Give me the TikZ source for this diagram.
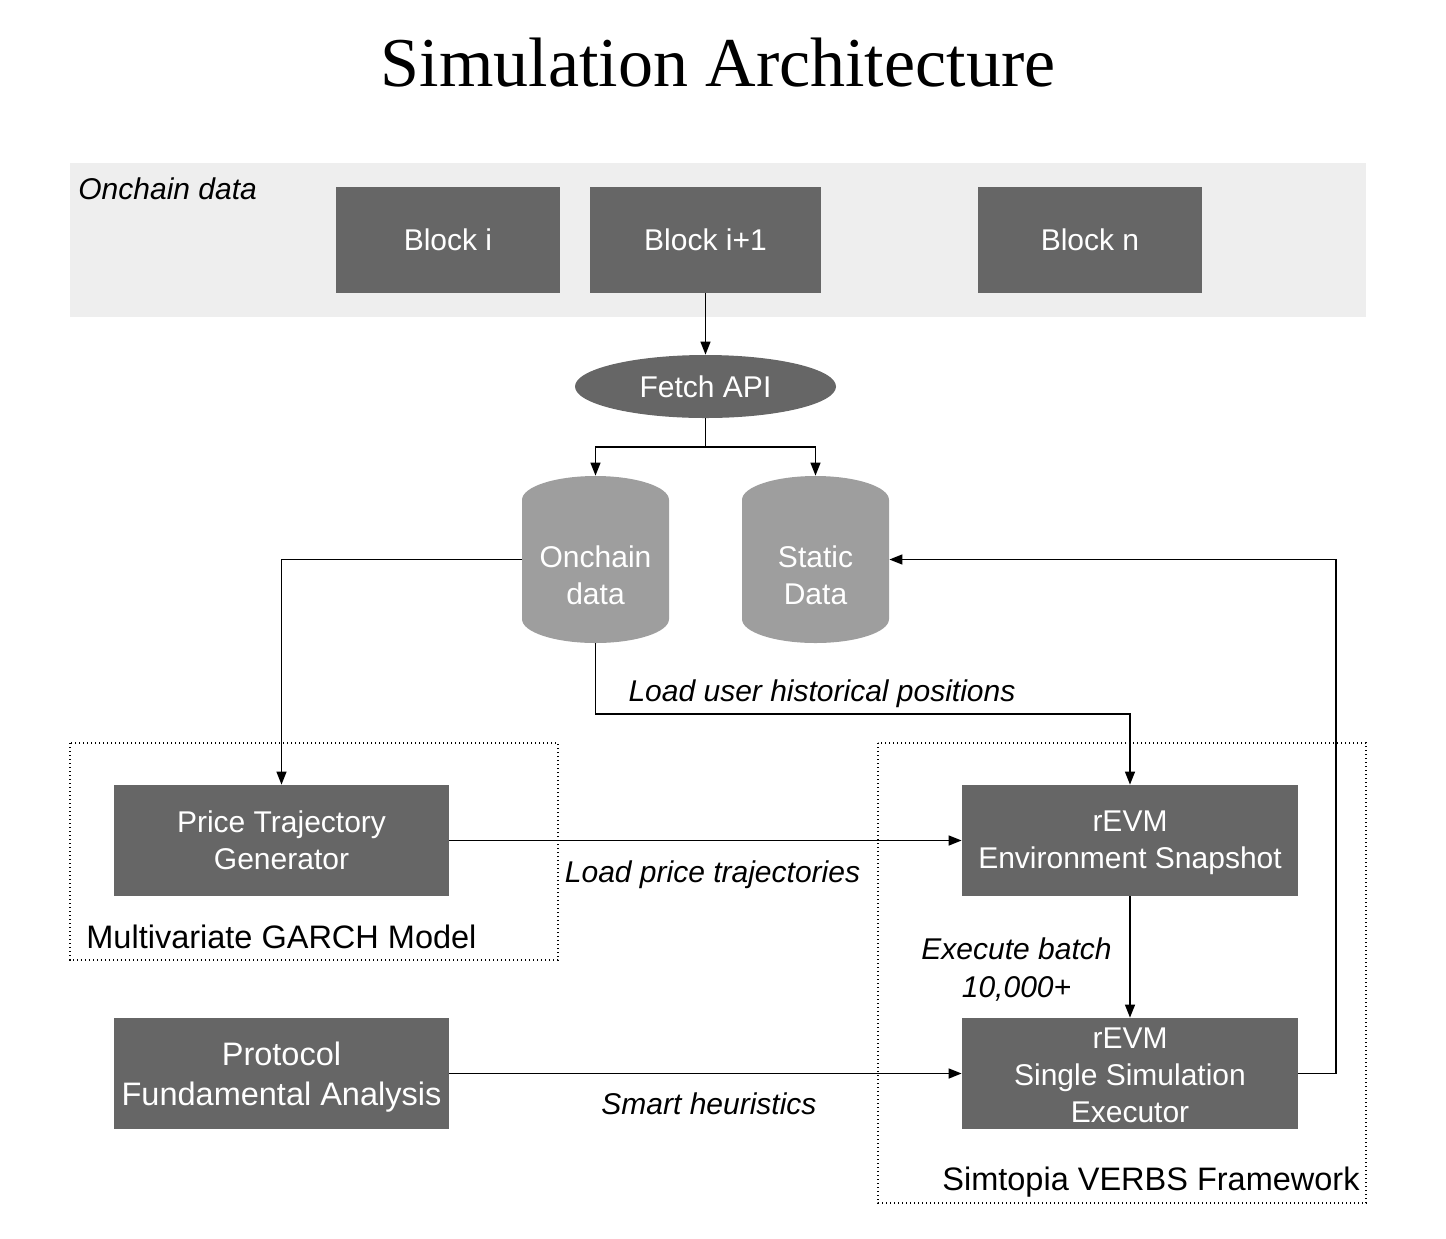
\documentclass[tikz,border=0pt]{standalone}
\usepackage{fontspec}
\setmainfont{Liberation Sans}
\newfontfamily\titlefont{Liberation Serif}
\usetikzlibrary{arrows.meta,shapes.geometric}
\definecolor{boxgray}{HTML}{666666}
\definecolor{cylgray}{HTML}{9E9E9E}
\definecolor{bandgray}{HTML}{EEEEEE}
\tikzset{
  dbox/.style={rectangle, fill=boxgray, text=white, align=center, inner sep=0pt,
    font=\fontsize{15}{18.5}\selectfont},
  boxtxt/.style={text=white, align=center, inner sep=0pt, font=\fontsize{15}{18.5}\selectfont},
  cylnode/.style={rectangle, inner sep=0pt, minimum width=73.5pt, minimum height=83.5pt},
  arr/.style={-{Triangle[length=6.5pt,width=5pt]}, line width=0.7pt},
  grp/.style={line width=0.6pt, dash pattern=on 0.6pt off 1.4pt},
  lbl/.style={font=\fontsize{15}{19}\selectfont\itshape, align=center, inner sep=0pt},
  grplbl/.style={font=\fontsize{16.25}{20}\selectfont, inner sep=0pt},
}
\begin{document}
\begin{tikzpicture}[x=0.5pt,y=-0.5pt]
\useasboundingbox (0,0) rectangle (1446,1238);
% title
\node[font=\fontsize{35}{40}\selectfont\titlefont] (title) at (718,63) {Simulation Architecture};
% onchain band
\fill[bandgray] (70,163) rectangle (1366,317);
\node[lbl, anchor=west] (bandlbl) at (78,189) {Onchain data};
\node[dbox, minimum width=112pt, minimum height=53pt] (b1) at (448,240) {Block i};
\node[dbox, minimum width=115.5pt, minimum height=53pt] (b2) at (705.5,240) {Block i+1};
\node[dbox, minimum width=112pt, minimum height=53pt] (b3) at (1090,240) {Block n};
% fetch API
\node[ellipse, fill=boxgray, text=white, inner sep=0pt, minimum width=130.5pt, minimum height=31.5pt,
  font=\fontsize{15}{18.5}\selectfont] (fetch) at (705.5,386.5) {Fetch API};
% cylinders
\fill[cylgray] (522,500) arc[start angle=180, end angle=0, x radius=36.75pt, y radius=12pt]
  -- (669,619) arc[start angle=0, end angle=-180, x radius=36.75pt, y radius=12pt] -- cycle;
\fill[cylgray] (742,500) arc[start angle=180, end angle=0, x radius=36.75pt, y radius=12pt]
  -- (889,619) arc[start angle=0, end angle=-180, x radius=36.75pt, y radius=12pt] -- cycle;
\node[cylnode] (odata) at (595.5,559.5) {};
\node[cylnode] (sdata) at (815.5,559.5) {};
\node[boxtxt] (odatatxt) at (595.5,575) {Onchain\\data};
\node[boxtxt] (sdatatxt) at (815.5,575) {Static\\Data};
% groups
\draw[grp] (70,743) rectangle (558,960);
\draw[grp] (878,743) rectangle (1366,1203);
\node[grplbl, anchor=west] (garch) at (86,937) {Multivariate GARCH Model};
\node[grplbl, anchor=east] (simtopia) at (1360,1182) {Simtopia VERBS Framework};
% boxes
\node[dbox, minimum width=167.5pt, minimum height=55.5pt] (ptg) at (281.5,840.5) {Price Trajectory\\Generator};
\node[dbox, minimum width=168pt, minimum height=55.5pt] (env) at (1130,840.5) {};
\node[boxtxt] (envtxt) at (1130,843) {rEVM\\Environment Snapshot};
\node[dbox, minimum width=168pt, minimum height=55.5pt] (sim) at (1130,1073.5) {};
\node[boxtxt] (simtxt) at (1130,1075.5) {rEVM\\Single Simulation\\Executor};
\node[dbox, minimum width=167.5pt, minimum height=55.5pt] (pfa) at (281.5,1073.5) {};
\node[boxtxt, font=\fontsize{16.25}{20}\selectfont] (pfatxt) at (281.5,1077) {Protocol\\Fundamental Analysis};
% helper coordinates
\coordinate (split) at (705.5,447);
\coordinate (hist) at (595.5,714);
\coordinate (loopx) at (1336,1073.5);
% connectors
\draw[arr] (b2.south) -- (fetch.north);
\draw[line width=0.7pt] (fetch.south) -- (split);
\draw[arr] (split) -| (odata.north);
\draw[arr] (split) -| (sdata.north);
\draw[arr] (odata.west) -| (ptg.north);
\draw[arr] (odata.south) -- (hist) -| (env.north);
\draw[arr] (ptg.east) -- (env.west);
\draw[arr] (env.south) -- (sim.north);
\draw[arr] (pfa.east) -- (sim.west);
\draw[arr] (sim.east) -- (loopx) |- (sdata.east);
% labels
\node[lbl] (l1) at (822,694) {Load user historical positions};
\node[lbl] (l2) at (712.5,875) {Load price trajectories};
\node[lbl] (l3) at (709,1104) {Smart heuristics};
\node[lbl] (l4) at (1016.5,970) {Execute batch\\10,000+};
\end{tikzpicture}
\end{document}
